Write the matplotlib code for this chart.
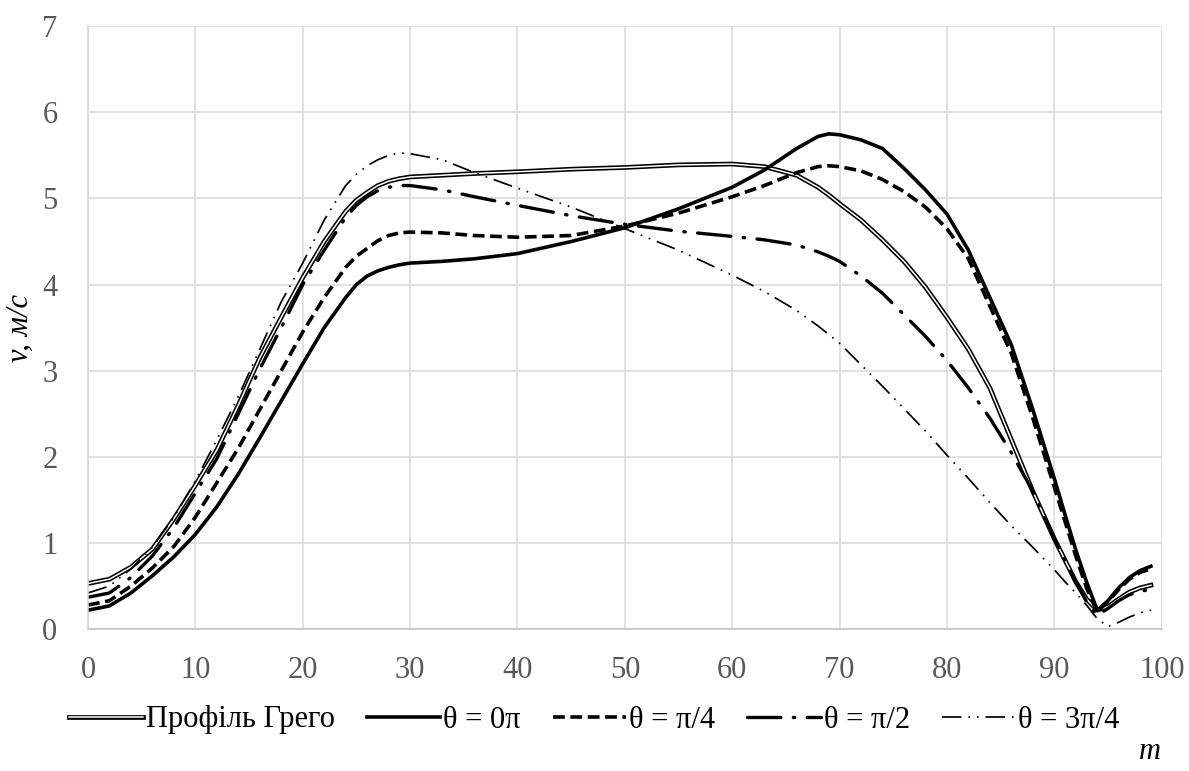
import numpy as np
import matplotlib
matplotlib.use("Agg")
import matplotlib.pyplot as plt

plt.rcParams['font.family'] = ['Liberation Serif', 'DejaVu Serif']
plt.rcParams['lines.scale_dashes'] = False

m = [0, 2, 4, 6, 8, 10, 12, 14, 16, 18, 20, 22, 24, 25, 26, 27, 28, 29, 30, 33,
     36, 40, 45, 50, 55, 60, 63, 66, 68, 69, 70, 72, 74, 76, 78, 80, 82, 84, 86,
     88, 90, 91, 92, 93, 94, 95, 96, 97, 98, 99]

v_grego = [0.53, 0.58, 0.72, 0.93, 1.28, 1.67, 2.08, 2.60, 3.15, 3.62, 4.08, 4.50,
           4.85, 4.98, 5.07, 5.15, 5.20, 5.23, 5.25, 5.27, 5.29, 5.31, 5.34, 5.36,
           5.39, 5.40, 5.37, 5.27, 5.13, 5.04, 4.94, 4.75, 4.52, 4.27, 3.97, 3.62,
           3.25, 2.80, 2.20, 1.60, 1.05, 0.80, 0.55, 0.35, 0.22, 0.26, 0.35, 0.43,
           0.48, 0.51]

v_0 = [0.22, 0.27, 0.42, 0.62, 0.84, 1.10, 1.42, 1.80, 2.22, 2.65, 3.08, 3.50,
       3.85, 4.00, 4.10, 4.16, 4.20, 4.23, 4.25, 4.27, 4.30, 4.36, 4.50, 4.66,
       4.88, 5.13, 5.33, 5.58, 5.72, 5.75, 5.74, 5.68, 5.58, 5.35, 5.10, 4.82,
       4.40, 3.85, 3.30, 2.55, 1.75, 1.33, 0.92, 0.55, 0.22, 0.33, 0.48, 0.60,
       0.68, 0.73]

v_pi4 = [0.28, 0.33, 0.50, 0.71, 0.96, 1.30, 1.70, 2.10, 2.55, 3.00, 3.45, 3.85,
         4.20, 4.33, 4.42, 4.51, 4.57, 4.60, 4.61, 4.60, 4.57, 4.55, 4.57, 4.68,
         4.83, 5.02, 5.15, 5.30, 5.37, 5.38, 5.37, 5.32, 5.22, 5.08, 4.90, 4.65,
         4.30, 3.75, 3.20, 2.45, 1.65, 1.25, 0.85, 0.48, 0.20, 0.32, 0.46, 0.58,
         0.66, 0.70]

v_pi2 = [0.37, 0.42, 0.60, 0.85, 1.18, 1.58, 1.98, 2.50, 3.02, 3.50, 4.00, 4.40,
         4.78, 4.92, 5.02, 5.09, 5.13, 5.15, 5.15, 5.10, 5.02, 4.92, 4.80, 4.70,
         4.62, 4.56, 4.52, 4.46, 4.38, 4.33, 4.27, 4.10, 3.90, 3.65, 3.40, 3.12,
         2.80, 2.45, 2.05, 1.60, 1.05, 0.80, 0.55, 0.32, 0.16, 0.24, 0.33, 0.40,
         0.44, 0.46]

v_3pi4 = [0.42, 0.50, 0.70, 0.95, 1.30, 1.72, 2.20, 2.70, 3.25, 3.80, 4.25, 4.75,
          5.15, 5.28, 5.38, 5.45, 5.50, 5.53, 5.52, 5.45, 5.30, 5.12, 4.90, 4.65,
          4.40, 4.11, 3.92, 3.70, 3.52, 3.42, 3.32, 3.07, 2.82, 2.56, 2.30, 2.02,
          1.75, 1.47, 1.20, 0.95, 0.69, 0.55, 0.42, 0.28, 0.12, 0.03, 0.08, 0.14,
          0.19, 0.22]

labels = ['Профіль Грего', 'θ = 0π', 'θ = π/4', 'θ = π/2', 'θ = 3π/4']

fig = plt.figure(figsize=(11.89, 7.71), dpi=100)
ax = fig.add_axes([0.074, 0.184, 0.903, 0.782])

# double line: black outer + white inner
g1, = ax.plot(m, v_grego, color='black', lw=3.4, solid_joinstyle='round')
g2, = ax.plot(m, v_grego, color='white', lw=1.1, solid_joinstyle='round')
l0, = ax.plot(m, v_0, color='black', lw=2.6, solid_joinstyle='round')
l1, = ax.plot(m, v_pi4, color='black', lw=2.6, dashes=(8.5, 4))
l2, = ax.plot(m, v_pi2, color='black', lw=2.4, dashes=(24, 9, 1, 9),
              dash_capstyle='round')
l3, = ax.plot(m, v_3pi4, color='black', lw=1.25, dashes=(14, 5, 1.2, 5, 1.2, 5))

ax.set_xlim(0, 100)
ax.set_ylim(0, 7)
ax.set_xticks(np.arange(0, 101, 10))
ax.set_yticks(np.arange(0, 8, 1))
ax.grid(True, color='#d9d9d9', lw=1.1)
ax.set_axisbelow(True)
for s in ['top', 'right']:
    ax.spines[s].set_visible(False)
ax.spines['left'].set_color('#d9d9d9')
ax.spines['bottom'].set_color('#bfbfbf')
for s in ['left', 'bottom']:
    ax.spines[s].set_linewidth(1.1)
ax.tick_params(length=0, labelsize=22, colors='#595959')
ax.tick_params(axis='x', pad=19)
ax.tick_params(axis='y', pad=22)

ax.set_ylabel('v, м/с', fontsize=22, style='italic', labelpad=5)
fig.text(0.976, 0.016, 'm', fontsize=22, style='italic', ha='right', va='baseline')

ax.legend([(g1, g2), l0, l1, l2, l3], labels, loc='center',
          bbox_to_anchor=(0.5, (771 - 720) / 771), bbox_transform=fig.transFigure,
          ncol=5, frameon=False, fontsize=22, handlelength=2.4, handletextpad=0.1,
          columnspacing=1.05, borderaxespad=0)

fig.savefig('out.png', dpi=100)
